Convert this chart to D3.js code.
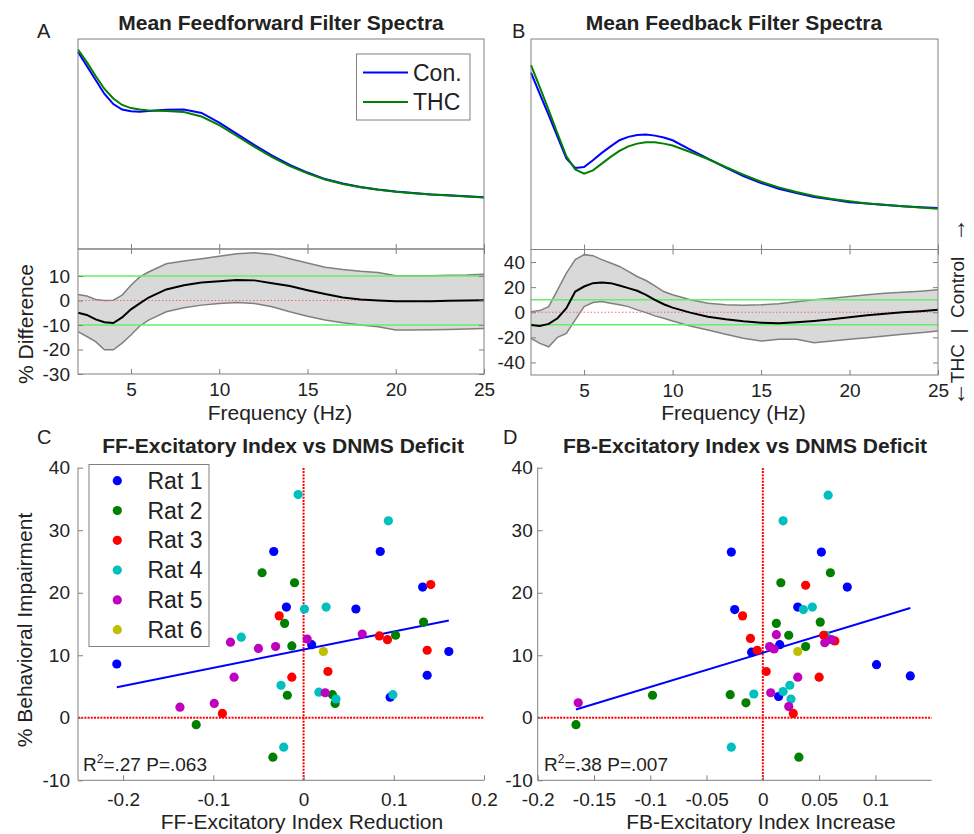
<!DOCTYPE html>
<html>
<head>
<meta charset="utf-8">
<script src="https://cdn.jsdelivr.net/npm/d3@7"></script>
<style>
  body { margin: 0; background: #fff; }
  svg text { font-family: "Liberation Sans", Arial, Helvetica, sans-serif; fill: #222; }
  .axis path, .axis line { stroke: #808080; }
  .axis text { font-size: 19px; fill: #222; }
</style>
</head>
<body>
<div id="chart"></div>
<script>
// ---------------- data ----------------
// feedforward spectra (panel A)
const freqA = [2, 2.5, 3, 3.5, 4, 4.5, 5, 5.5, 6, 7, 8, 9, 10, 11, 12, 13, 14, 15, 16, 17, 18, 19, 20, 21, 22, 23, 24, 25];
const ffControl = [0.938, 0.871, 0.805, 0.738, 0.690, 0.664, 0.656, 0.654, 0.657, 0.663, 0.664, 0.648, 0.602, 0.548, 0.495, 0.445, 0.400, 0.364, 0.333, 0.312, 0.295, 0.283, 0.274, 0.267, 0.260, 0.256, 0.251, 0.246];
const ffTHC = [0.950, 0.890, 0.824, 0.762, 0.717, 0.686, 0.671, 0.664, 0.660, 0.657, 0.652, 0.631, 0.590, 0.538, 0.486, 0.438, 0.395, 0.360, 0.331, 0.310, 0.294, 0.282, 0.273, 0.266, 0.260, 0.255, 0.250, 0.245];
const ffDiffMean = [-5.0, -5.9, -7.7, -8.9, -9.2, -6.9, -3.6, -1.2, 1.2, 4.5, 6.2, 7.3, 7.8, 8.4, 8.2, 7.0, 5.9, 4.2, 2.6, 1.2, 0.4, 0, -0.3, -0.3, -0.3, -0.1, 0, 0.1];
const ffDiffUpper = [2.4, 1.8, 0.4, 0, 0.1, 2.2, 6.2, 9.6, 11.6, 15.0, 16.1, 17.0, 18.0, 19.1, 19.5, 18.8, 17.0, 15.3, 13.6, 12.6, 11.9, 11.4, 10.1, 10.1, 10.1, 10.3, 10.4, 10.7];
const ffDiffLower = [-12.7, -14.7, -16.8, -20.1, -20.1, -17.4, -14.1, -10.4, -8.0, -4.6, -3.0, -1.9, -1.2, -0.8, -1.2, -2.6, -4.6, -6.4, -8.0, -9.1, -10.0, -10.7, -12.0, -12.0, -11.9, -11.8, -11.6, -11.4];

// feedback spectra (panel B)
const freqB = [2, 2.5, 3, 3.5, 4, 4.5, 5, 5.5, 6, 6.5, 7, 7.5, 8, 8.5, 9, 9.5, 10, 11, 12, 13, 14, 15, 16, 17, 18, 19, 20, 21, 22, 23, 24, 25];
const fbControl = [0.840, 0.738, 0.638, 0.535, 0.432, 0.387, 0.392, 0.424, 0.459, 0.490, 0.519, 0.535, 0.544, 0.546, 0.541, 0.532, 0.519, 0.475, 0.432, 0.389, 0.349, 0.316, 0.289, 0.268, 0.249, 0.237, 0.225, 0.218, 0.211, 0.206, 0.201, 0.197];
const fbTHC = [0.876, 0.770, 0.662, 0.551, 0.443, 0.380, 0.360, 0.376, 0.408, 0.440, 0.468, 0.490, 0.503, 0.510, 0.510, 0.503, 0.494, 0.463, 0.430, 0.392, 0.356, 0.322, 0.295, 0.273, 0.254, 0.240, 0.229, 0.219, 0.213, 0.206, 0.200, 0.194];
const fbDiffMean = [-10.1, -10.9, -9.3, -4.8, 3.2, 16.5, 20.5, 23.2, 23.7, 23.2, 21.3, 19.2, 17.1, 13.9, 9.9, 6.4, 3.7, -0.3, -3.5, -5.6, -7.2, -8.3, -8.8, -8.0, -6.9, -5.6, -4.0, -2.4, -1.1, 0, 0.8, 1.9];
const fbDiffUpper = [0.5, 1.3, 4.5, 17.9, 31.2, 41.9, 45.9, 45.1, 41.9, 39.2, 36.5, 32.5, 28.5, 25.3, 21.1, 16.5, 13.9, 9.9, 7.2, 5.9, 5.6, 5.9, 6.7, 8.3, 9.9, 11.2, 12.5, 13.9, 15.2, 16.0, 16.8, 17.9];
const fbDiffLower = [-20.8, -24.8, -27.5, -20.0, -16.8, -6.1, 4.5, 7.7, 8.5, 7.2, 5.9, 4.5, 1.9, -0.3, -2.9, -4.8, -6.9, -10.9, -14.1, -17.6, -20.8, -23.0, -21.5, -21.5, -24.3, -22.9, -21.6, -20.3, -18.9, -17.6, -16.3, -14.9];

const freqTicks = [5, 10, 15, 20, 25];
const ffDiffTicks = [-30, -20, -10, 0, 10];
const fbDiffTicks = [-40, -20, 0, 20, 40];

// scatter panels: [rat, index change, % behavioral impairment]
const ratNames = ["Rat 1", "Rat 2", "Rat 3", "Rat 4", "Rat 5", "Rat 6"];
const ratColors = ["#0000ff", "#007f00", "#ff0000", "#00bfbf", "#bf00bf", "#bfbf00"];

const ffPoints = [
  [1, -0.207, 8.6], [1, -0.033, 26.6], [1, -0.019, 17.7], [1, 0.009, 11.7], [1, 0.058, 17.4],
  [1, 0.085, 26.6], [1, 0.132, 20.9], [1, 0.161, 10.6], [1, 0.137, 6.8], [1, 0.096, 3.3],
  [2, -0.046, 23.2], [2, -0.010, 21.6], [2, -0.021, 15.1], [2, -0.013, 11.5], [2, -0.018, 3.6],
  [2, -0.119, -1.1], [2, -0.034, -6.3], [2, 0.133, 15.3], [2, 0.102, 13.2], [2, 0.032, 3.7], [2, 0.035, 2.3],
  [3, -0.027, 16.3], [3, -0.013, 6.5], [3, -0.090, 0.7], [3, 0.027, 7.4], [3, 0.084, 13.1],
  [3, 0.093, 12.5], [3, 0.141, 21.3], [3, 0.137, 10.8],
  [4, -0.006, 35.7], [4, 0.094, 31.5], [4, 0.001, 17.4], [4, 0.025, 17.7], [4, -0.069, 12.9],
  [4, -0.025, 5.2], [4, 0.017, 4.1], [4, 0.036, 3.0], [4, 0.099, 3.7], [4, -0.022, -4.7],
  [5, -0.081, 12.1], [5, -0.050, 11.1], [5, -0.031, 11.4], [5, -0.077, 6.5], [5, -0.137, 1.7],
  [5, -0.099, 2.3], [5, 0.004, 12.6], [5, 0.024, 4.0], [5, 0.065, 13.4],
  [6, 0.022, 10.6]
];
const fbPoints = [
  [1, -0.028, 26.5], [1, 0.052, 26.5], [1, 0.075, 20.9], [1, -0.025, 17.3], [1, 0.031, 17.7],
  [1, 0.015, 11.7], [1, -0.010, 10.5], [1, 0.101, 8.5], [1, 0.131, 6.7], [1, 0.014, 3.4],
  [2, 0.060, 23.2], [2, 0.016, 21.6], [2, 0.012, 15.1], [2, 0.051, 15.3], [2, 0.023, 13.2],
  [2, 0.038, 11.4], [2, -0.098, 3.6], [2, -0.029, 3.7], [2, -0.015, 2.4], [2, -0.166, -1.1], [2, 0.032, -6.3],
  [3, 0.038, 21.2], [3, -0.018, 16.3], [3, -0.011, 12.7], [3, -0.005, 10.8], [3, 0.003, 7.4],
  [3, 0.050, 6.5], [3, 0.027, 0.7],
  [4, 0.058, 35.6], [4, 0.018, 31.5], [4, 0.036, 17.3], [4, 0.044, 17.7], [4, 0.056, 13.2],
  [4, -0.008, 3.8], [4, 0.018, 4.2], [4, 0.024, 5.2], [4, 0.025, 3.0], [4, -0.028, -4.7],
  [3, 0.054, 13.2], [3, 0.064, 12.3],
  [5, -0.164, 2.4], [5, 0.012, 13.3], [5, 0.006, 11.4], [5, 0.010, 11.0], [5, 0.055, 12.0],
  [5, 0.061, 12.5], [5, 0.031, 6.5], [5, 0.007, 4.0], [5, 0.023, 1.8],
  [6, 0.031, 10.6]
];
// regression line end points [x0, y0, x1, y1]
const ffFit = [-0.207, 4.9, 0.161, 15.56];
const fbFit = [-0.166, 1.33, 0.131, 17.55];

const ffXTicks = [-0.2, -0.1, 0, 0.1, 0.2];
const fbXTicks = [-0.2, -0.15, -0.1, -0.05, 0, 0.05, 0.1];
const impairTicks = [-10, 0, 10, 20, 30, 40];

// ---------------- drawing ----------------
const svg = d3.select("#chart").append("svg")
  .attr("width", 974)
  .attr("height", 834);

// plain ascii tick labels, MATLAB style (-0.2, 0, 0.05)
const plain = d => String(d);

// spectra panel: top curves + % difference band underneath
function drawSpectra(p) {
  let x = d3.scaleLinear().domain([2, 25]).range([p.left, p.right]);
  let yTop = d3.scaleLinear().domain([0, 1]).range([p.mid, p.top]);
  let yDiff = d3.scaleLinear().domain(p.diffDomain).range([p.bottom, p.mid]);

  let g = svg.append("g");

  // top spectra lines
  let line = d3.line().x((d, i) => x(p.freq[i])).y(d => yTop(d));
  g.append("path").datum(p.control)
    .attr("fill", "none").attr("stroke", "#0000ff").attr("stroke-width", 2)
    .attr("d", line);
  g.append("path").datum(p.thc)
    .attr("fill", "none").attr("stroke", "#007f00").attr("stroke-width", 2)
    .attr("d", line);

  // band
  let idx = d3.range(p.freq.length);
  let area = d3.area()
    .x(i => x(p.freq[i]))
    .y0(i => yDiff(p.lower[i]))
    .y1(i => yDiff(p.upper[i]));
  g.append("path").datum(idx)
    .attr("fill", "#d9d9d9").attr("d", area);
  let edge = arr => d3.line().x((d, i) => x(p.freq[i])).y(d => yDiff(d))(arr);
  g.append("path").attr("d", edge(p.upper))
    .attr("fill", "none").attr("stroke", "#808080").attr("stroke-width", 1.5);
  g.append("path").attr("d", edge(p.lower))
    .attr("fill", "none").attr("stroke", "#808080").attr("stroke-width", 1.5);

  // +-10 % reference lines
  [10, -10].forEach(v => {
    g.append("line")
      .attr("x1", p.left).attr("x2", p.right)
      .attr("y1", yDiff(v)).attr("y2", yDiff(v))
      .attr("stroke", "#66ee66").attr("stroke-width", 1.5);
  });
  g.append("line")
    .attr("x1", p.left).attr("x2", p.right)
    .attr("y1", yDiff(0)).attr("y2", yDiff(0))
    .attr("stroke", "#ff6666").attr("stroke-width", 1)
    .attr("stroke-dasharray", "1.5,2");

  g.append("path").attr("d", edge(p.mean))
    .attr("fill", "none").attr("stroke", "#000").attr("stroke-width", 2);

  // boxes
  g.append("rect")
    .attr("x", p.left).attr("y", p.top)
    .attr("width", p.right - p.left).attr("height", p.mid - p.top)
    .attr("fill", "none").attr("stroke", "#808080");
  g.append("rect")
    .attr("x", p.left).attr("y", p.mid)
    .attr("width", p.right - p.left).attr("height", p.bottom - p.mid)
    .attr("fill", "none").attr("stroke", "#808080");

  // axes with inward ticks
  g.append("g").attr("class", "axis")
    .attr("transform", "translate(0," + p.bottom + ")")
    .call(d3.axisBottom(x).tickValues(freqTicks).tickFormat(plain).tickSizeInner(-5).tickSizeOuter(0).tickPadding(9))
    .call(a => a.select(".domain").remove());
  g.append("g").attr("class", "axis")
    .attr("transform", "translate(0," + p.mid + ")")
    .call(d3.axisTop(x).tickValues(freqTicks).tickSizeInner(-5).tickSizeOuter(0).tickFormat(""))
    .call(a => a.select(".domain").remove());
  g.append("g").attr("class", "axis")
    .attr("transform", "translate(0," + p.mid + ")")
    .call(d3.axisBottom(x).tickValues(freqTicks).tickSizeInner(-5).tickSizeOuter(0).tickFormat(""))
    .call(a => a.select(".domain").remove());
  g.append("g").attr("class", "axis")
    .attr("transform", "translate(" + p.left + ",0)")
    .call(d3.axisLeft(yDiff).tickValues(p.diffTicks).tickFormat(plain).tickSizeInner(-5).tickSizeOuter(0).tickPadding(p.yPad))
    .call(a => a.select(".domain").remove());
  g.append("g").attr("class", "axis")
    .attr("transform", "translate(" + p.right + ",0)")
    .call(d3.axisRight(yDiff).tickValues(p.diffTicks).tickSizeInner(-5).tickSizeOuter(0).tickFormat(""))
    .call(a => a.select(".domain").remove());

  // texts
  svg.append("text")
    .attr("x", (p.left + p.right) / 2 - 1).attr("y", 420)
    .attr("text-anchor", "middle").attr("font-size", "21px")
    .text("Frequency (Hz)");
  svg.append("text")
    .attr("x", p.titleX).attr("y", 30)
    .attr("text-anchor", "middle").attr("font-size", "21px").attr("font-weight", "bold")
    .attr("fill", "#000")
    .text(p.title);
  svg.append("text")
    .attr("x", p.letterX).attr("y", 38)
    .attr("font-size", "20px")
    .text(p.letter);
}

drawSpectra({
  left: 78, right: 484, top: 39, mid: 249, bottom: 374,
  freq: freqA, control: ffControl, thc: ffTHC,
  mean: ffDiffMean, upper: ffDiffUpper, lower: ffDiffLower,
  diffDomain: [-30, 21], diffTicks: ffDiffTicks, yPad: 8,
  title: "Mean Feedforward Filter Spectra", titleX: 281, letter: "A", letterX: 37
});
drawSpectra({
  left: 531, right: 938, top: 39, mid: 249.5, bottom: 375,
  freq: freqB, control: fbControl, thc: fbTHC,
  mean: fbDiffMean, upper: fbDiffUpper, lower: fbDiffLower,
  diffDomain: [-50, 50], diffTicks: fbDiffTicks, yPad: 6,
  title: "Mean Feedback Filter Spectra", titleX: 734, letter: "B", letterX: 512
});

// legend of panel A
let legA = svg.append("g");
legA.append("rect")
  .attr("x", 356.5).attr("y", 54).attr("width", 113.5).attr("height", 66)
  .attr("fill", "#fff").attr("stroke", "#808080");
[["Con.", "#0000ff"], ["THC", "#007f00"]].forEach((e, i) => {
  let yy = 72.5 + i * 29.5;
  legA.append("line")
    .attr("x1", 363).attr("x2", 408).attr("y1", yy).attr("y2", yy)
    .attr("stroke", e[1]).attr("stroke-width", 2);
  legA.append("text")
    .attr("x", 413).attr("y", yy + 8)
    .attr("font-size", "23px")
    .text(e[0]);
});

// y label of the difference plots
svg.append("text")
  .attr("transform", "translate(33,324) rotate(-90)")
  .attr("text-anchor", "middle").attr("font-size", "21px")
  .text("% Difference");

// right side direction label of panel B
svg.append("text")
  .attr("transform", "translate(964,320) rotate(-90)")
  .attr("text-anchor", "middle").attr("font-size", "19px")
  .attr("xml:space", "preserve")
  .text("THC  |  Control");
svg.append("text")
  .attr("transform", "translate(965,230) rotate(-90)")
  .attr("text-anchor", "middle").attr("font-size", "24px")
  .text("\u2192");
svg.append("text")
  .attr("transform", "translate(965,394) rotate(-90)")
  .attr("text-anchor", "middle").attr("font-size", "24px")
  .text("\u2190");

// scatter panels
function drawScatter(p) {
  let x = d3.scaleLinear().domain(p.xDomain).range([p.left, p.right]);
  let y = d3.scaleLinear().domain([-10, 40]).range([780.3, 467.7]);
  let g = svg.append("g");

  // zero lines
  g.append("line")
    .attr("x1", x(0)).attr("x2", x(0)).attr("y1", y(-10)).attr("y2", y(40))
    .attr("stroke", "#ff0000").attr("stroke-width", 2).attr("stroke-dasharray", "2,1.2");
  g.append("line")
    .attr("x1", p.left).attr("x2", p.right).attr("y1", y(0)).attr("y2", y(0))
    .attr("stroke", "#ff0000").attr("stroke-width", 2).attr("stroke-dasharray", "2,1.2");

  g.append("line")
    .attr("x1", x(p.fit[0])).attr("y1", y(p.fit[1]))
    .attr("x2", x(p.fit[2])).attr("y2", y(p.fit[3]))
    .attr("stroke", "#0000ff").attr("stroke-width", 2);

  g.selectAll("circle.pt").data(p.points).join("circle")
    .attr("class", "pt")
    .attr("cx", d => x(d[1]))
    .attr("cy", d => y(d[2]))
    .attr("r", 4.6)
    .attr("fill", d => ratColors[d[0] - 1]);

  // axes
  g.append("g").attr("class", "axis")
    .attr("transform", "translate(0,780.3)")
    .call(d3.axisBottom(x).tickValues(p.xTicks).tickFormat(plain).tickSizeInner(-5).tickSizeOuter(0).tickPadding(12))
    .call(a => a.select(".domain").attr("d", "M" + p.left + ",0H" + p.right));
  g.append("g").attr("class", "axis")
    .attr("transform", "translate(" + p.left + ",0)")
    .call(d3.axisLeft(y).tickValues(impairTicks).tickFormat(plain).tickSizeInner(-5).tickSizeOuter(0).tickPadding(p.yPad))
    .call(a => a.select(".domain").attr("d", "M0,467.7V780.3"));

  // stats text
  let t = g.append("text")
    .attr("x", p.statX).attr("y", 771)
    .attr("font-size", "19px");
  t.append("tspan").text("R");
  t.append("tspan").attr("dy", -8).attr("font-size", "12px").text("2");
  t.append("tspan").attr("dy", 8).text(p.stats);

  svg.append("text")
    .attr("x", p.titleX).attr("y", 453)
    .attr("text-anchor", "middle").attr("font-size", "21px").attr("font-weight", "bold")
    .attr("fill", "#000")
    .text(p.title);
  svg.append("text")
    .attr("x", p.labelX).attr("y", 829)
    .attr("text-anchor", "middle").attr("font-size", "21px")
    .text(p.xLabel);
  svg.append("text")
    .attr("x", p.letterX).attr("y", 444)
    .attr("font-size", "20px")
    .text(p.letter);
}

drawScatter({
  left: 78, right: 484, xDomain: [-0.25, 0.2], xTicks: ffXTicks, yPad: 8,
  points: ffPoints, fit: ffFit, stats: "=.27 P=.063", statX: 83,
  title: "FF-Excitatory Index vs DNMS Deficit", titleX: 283,
  xLabel: "FF-Excitatory Index Reduction", labelX: 302, letter: "C", letterX: 37
});
drawScatter({
  left: 537.7, right: 931.7, xDomain: [-0.2, 0.15], xTicks: fbXTicks, yPad: 5,
  points: fbPoints, fit: fbFit, stats: "=.38 P=.007", statX: 544,
  title: "FB-Excitatory Index vs DNMS Deficit", titleX: 745,
  xLabel: "FB-Excitatory Index Increase", labelX: 761, letter: "D", letterX: 503
});

// legend of panel C
let legC = svg.append("g");
legC.append("rect")
  .attr("x", 89).attr("y", 464.5).attr("width", 120).attr("height", 182)
  .attr("fill", "#fff").attr("stroke", "#808080");
ratNames.forEach((n, i) => {
  let yy = 480.7 + i * 29.8;
  legC.append("circle")
    .attr("cx", 117.3).attr("cy", yy).attr("r", 4.6)
    .attr("fill", ratColors[i]);
  legC.append("text")
    .attr("x", 147.5).attr("y", yy + 8)
    .attr("font-size", "23px")
    .text(n);
});

svg.append("text")
  .attr("transform", "translate(32,630) rotate(-90)")
  .attr("text-anchor", "middle").attr("font-size", "21px")
  .text("% Behavioral Impairment");
</script>
</body>
</html>
